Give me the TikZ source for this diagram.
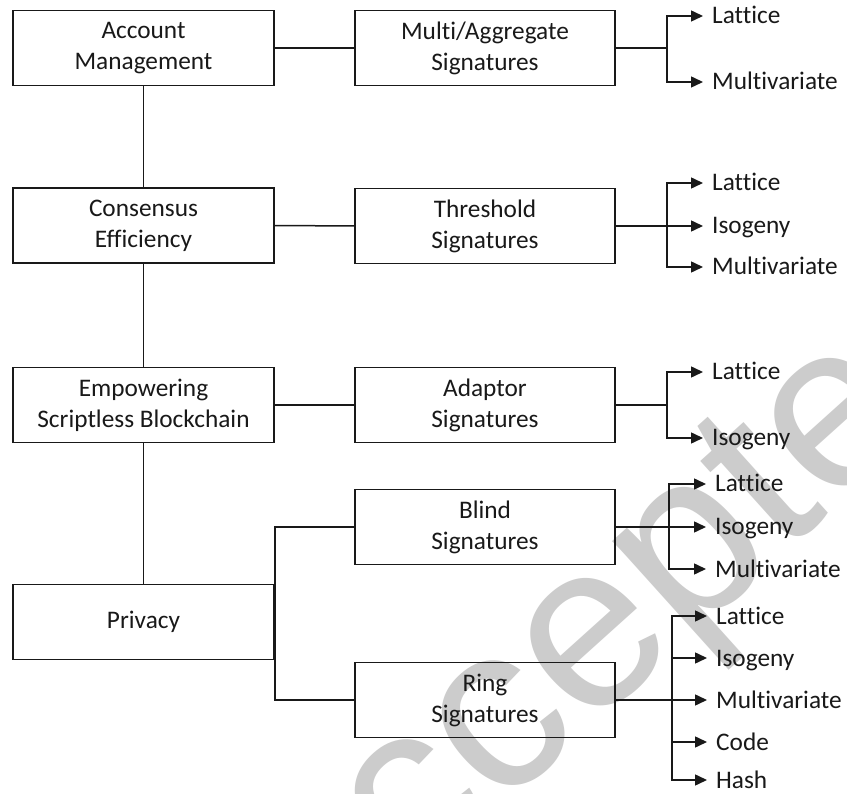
\documentclass[tikz,border=0pt]{standalone}
\usepackage{fontspec}
\setmainfont{Carlito}[Ligatures=NoCommon]
\newfontfamily\wmfont{Liberation Sans}
\usetikzlibrary{arrows.meta}
\definecolor{wm}{RGB}{204,204,204}
\definecolor{ink}{RGB}{25,25,25}
\tikzset{
  box/.style={draw=ink, line width=1.5pt, minimum width=261pt, minimum height=75pt,
    align=center, inner sep=0pt, font=\fontsize{25.3}{31}\selectfont, text=ink},
  lbl/.style={anchor=west, inner xsep=9pt, inner ysep=0pt, text height=16pt, text depth=0pt,
    font=\fontsize{25.3}{31}\selectfont, text=ink},
  conn/.style={draw=ink, line width=1.5pt},
  arr/.style={conn, -{Triangle[length=12pt,width=11pt]}},
}
\begin{document}
\begin{tikzpicture}[x=1pt,y=-1pt]
\clip (0,0) rectangle (847,794);
\fill[white] (0,0) rectangle (847,794);
% watermark
\node[rotate=42, text=wm, font=\fontsize{236}{236}\selectfont\wmfont, inner sep=0pt] (wmk) at (619,621) {Accepted};
% left column
\node[box] (am) at (143.5,48) {Account\\Management};
\node[box] (ce) at (143.5,225.5) {Consensus\\Efficiency};
\node[box] (em) at (143.5,405) {Empowering\\Scriptless Blockchain};
\node[box] (pr) at (143.5,622) {Privacy};
% middle column
\node[box, minimum width=260pt] (ma) at (485,48) {Multi/Aggregate\\Signatures};
\node[box, minimum width=260pt] (th) at (485,226) {Threshold\\Signatures};
\node[box, minimum width=260pt] (ad) at (485,405) {Adaptor\\Signatures};
\node[box, minimum width=260pt] (bl) at (485,527) {Blind\\Signatures};
\node[box, minimum width=260pt] (ri) at (485,700) {Ring\\Signatures};
% labels
\node[lbl] (ma1) at (703,16) {Lattice};
\node[lbl] (ma2) at (703,82) {Multivariate};
\node[lbl] (th1) at (703,183) {Lattice};
\node[lbl] (th2) at (703,226) {Isogeny};
\node[lbl] (th3) at (703,267) {Multivariate};
\node[lbl] (ad1) at (703,372) {Lattice};
\node[lbl] (ad2) at (703,438) {Isogeny};
\node[lbl] (bl1) at (706,484) {Lattice};
\node[lbl] (bl2) at (706,527) {Isogeny};
\node[lbl] (bl3) at (706,569) {Multivariate};
\node[lbl] (ri1) at (707,616) {Lattice};
\node[lbl] (ri2) at (707,658) {Isogeny};
\node[lbl] (ri3) at (707,700) {Multivariate};
\node[lbl] (ri4) at (707,742) {Code};
\node[lbl] (ri5) at (707,780) {Hash};
% left spine
\draw[conn] (am) -- (ce);
\draw[conn] (ce) -- (em);
\draw[conn] (em) -- (pr);
% left to middle
\draw[conn] (am) -- (ma);
\draw[conn] (ce) -- (th);
\draw[conn] (em) -- (ad);
\draw[conn] (bl.west) -| (pr.east) |- (ri.west);
% Multi/Aggregate branches
\draw[conn] (ma.east) -- ++(51,0) coordinate (maj);
\draw[arr] (maj) |- (ma1.west);
\draw[arr] (maj) |- (ma2.west);
% Threshold branches
\draw[arr] (th.east) -- (th2.west);
\path (th.east) -- ++(51,0) coordinate (thj);
\draw[arr] (thj) |- (th1.west);
\draw[arr] (thj) |- (th3.west);
% Adaptor branches
\draw[conn] (ad.east) -- ++(51,0) coordinate (adj);
\draw[arr] (adj) |- (ad1.west);
\draw[arr] (adj) |- (ad2.west);
% Blind branches
\draw[arr] (bl.east) -- (bl2.west);
\path (bl.east) -- ++(53,0) coordinate (blj);
\draw[arr] (blj) |- (bl1.west);
\draw[arr] (blj) |- (bl3.west);
% Ring branches
\draw[arr] (ri.east) -- (ri3.west);
\path (ri.east) -- ++(56,0) coordinate (rij);
\draw[arr] (rij) |- (ri1.west);
\draw[arr] (rij) |- (ri2.west);
\draw[arr] (rij) |- (ri4.west);
\draw[arr] (rij) |- (ri5.west);
\end{tikzpicture}
\end{document}
